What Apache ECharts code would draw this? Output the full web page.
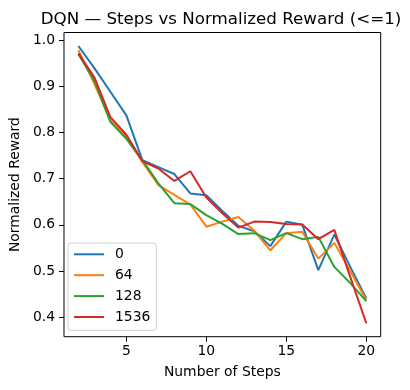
<!DOCTYPE html>
<html>
<head>
<meta charset="utf-8">
<script src="https://cdn.jsdelivr.net/npm/echarts@6/dist/echarts.min.js"></script>
<style>
html,body{margin:0;padding:0;background:#fff;}
#c{width:410px;height:390px;}
</style>
</head>
<body>
<div id="c"></div>
<script>
const steps = [2,3,4,5,6,7,8,9,10,11,12,13,14,15,16,17,18,19,20];
const seriesNames = ['0','64','128','1536'];
const reward0    = [0.987,0.939,0.888,0.837,0.740,0.725,0.710,0.668,0.664,0.630,0.598,0.586,0.554,0.607,0.600,0.502,0.579,0.509,0.441];
const reward64   = [0.978,0.905,0.826,0.790,0.736,0.686,0.665,0.644,0.596,0.607,0.617,0.587,0.545,0.582,0.585,0.527,0.561,0.500,0.437];
const reward128  = [0.969,0.912,0.823,0.786,0.740,0.690,0.647,0.645,0.621,0.602,0.580,0.582,0.567,0.582,0.569,0.574,0.509,0.474,0.435];
const reward1536 = [0.971,0.919,0.833,0.795,0.738,0.722,0.695,0.716,0.659,0.625,0.594,0.607,0.606,0.602,0.601,0.569,0.589,0.487,0.387];
const xTicks = [5,10,15,20];
const yTicks = [0.4,0.5,0.6,0.7,0.8,0.9,1.0];
const colors = ['#1f77b4','#ff7f0e','#2ca02c','#d62728'];
const allData = [reward0, reward64, reward128, reward1536];

const font = 'DejaVu Sans';
const chart = echarts.init(document.getElementById('c'), null, {renderer:'canvas'});
chart.setOption({
  animation:false,
  backgroundColor:'#fff',
  title:{
    text:'DQN \u2014 Steps vs Normalized Reward (<=1)',
    left:216, top:6, textAlign:'center',
    textStyle:{fontFamily:font,fontSize:16.7,fontWeight:'normal',color:'#000'}
  },
  grid:{left:61,right:29.3,top:32.5,bottom:53.3,show:true,borderColor:'#000',borderWidth:1,backgroundColor:'transparent'},
  legend:{
    orient:'vertical', left:68, top:243,
    data:seriesNames,
    itemWidth:30, itemHeight:14, itemGap:6.9,
    padding:[4.3,6,6.3,5],
    borderColor:'#d0d0d0', borderWidth:1, borderRadius:3,
    backgroundColor:'rgba(255,255,255,0.8)',
    itemStyle:{opacity:0},
    textStyle:{fontFamily:font,fontSize:13.9,color:'#000',padding:[0,0,0,6]}
  },
  xAxis:{
    type:'value', min:1.1, max:20.9,
    name:'Number of Steps', nameLocation:'middle', nameGap:29,
    nameTextStyle:{fontFamily:font,fontSize:13.9,color:'#000'},
    axisLine:{show:false},
    axisTick:{show:true,inside:false,length:5,lineStyle:{color:'#000'},customValues:xTicks},
    axisLabel:{fontFamily:font,fontSize:13.9,color:'#000',margin:8,customValues:xTicks},
    splitLine:{show:false}
  },
  yAxis:{
    type:'value', min:0.358, max:1.0162,
    name:'Normalized Reward', nameLocation:'middle', nameGap:36,
    nameTextStyle:{fontFamily:font,fontSize:13.9,color:'#000'},
    axisLine:{show:false},
    axisTick:{show:true,inside:false,length:5,lineStyle:{color:'#000'},customValues:yTicks},
    axisLabel:{fontFamily:font,fontSize:13.9,color:'#000',margin:9,customValues:yTicks,formatter:v=>v.toFixed(1)},
    splitLine:{show:false}
  },
  series: seriesNames.map((n,i)=>({
    name:n, type:'line', symbol:'none',
    data: steps.map((s,j)=>[s, allData[i][j]]),
    lineStyle:{width:2,color:colors[i]},
    itemStyle:{color:colors[i]},
    z:2+i
  }))
});
</script>
</body>
</html>
